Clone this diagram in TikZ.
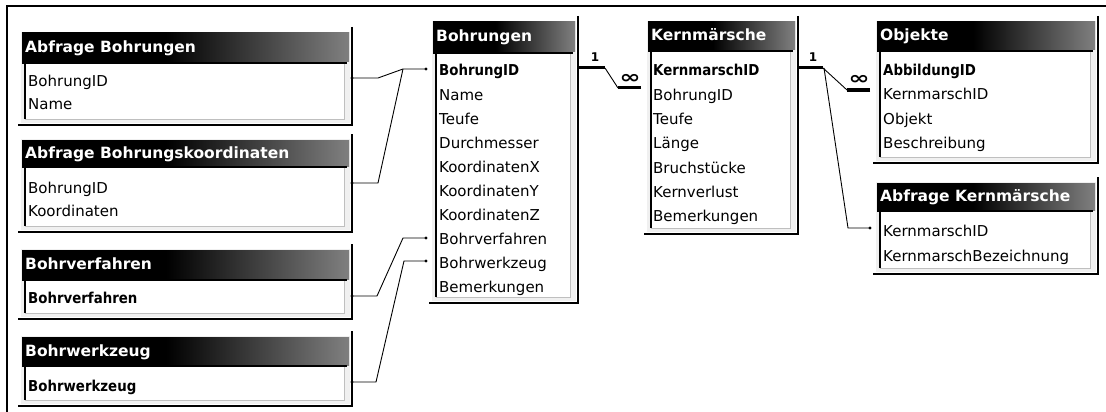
\documentclass[tikz,border=0pt]{standalone}
\usepackage{fontspec}
\setmainfont{DejaVu Sans}
\usepackage{graphicx}
\usetikzlibrary{calc}
\pgfdeclarehorizontalshading{titlegrad}{100bp}{color(0bp)=(black); color(25bp)=(black); color(47bp)=(black); color(75bp)=(black!50); color(100bp)=(black!50)}
\tikzset{
  fld/.style={anchor=west, inner sep=0pt, font=\fontsize{15}{18}\selectfont, text height=11pt, text depth=1pt},
  keyfld/.style={fld, font=\fontsize{15}{18}\selectfont\bfseries},
  ttl/.style={anchor=west, inner sep=0pt, text=white, font=\fontsize{15.5}{18}\selectfont\bfseries, text height=11pt, text depth=1pt},
  conn/.style={black, line width=0.9pt},
  relthick/.style={black, line width=3pt},
  dotend/.style={fill=black, draw=none},
  onelbl/.style={inner sep=0pt, font=\fontsize{12}{12}\selectfont\bfseries},
  manylbl/.style={inner sep=0pt, font=\fontsize{18}{18}\selectfont\bfseries},
}
\newcommand\dbwin[7]{%
  \fill[black!6] (#2-1,#4-1) rectangle (#3+1,#6+4);
  \shade[shading=titlegrad] (#2,#4) rectangle (#3,#5);
  \node[ttl] (#1-title) at (#2+3,{(#4+#5)/2}) {#7};
  \fill[white] (#2+3,#5+2) rectangle (#3-5,#6);
  \draw[black!25, line width=1pt] (#2+3,#6) -- (#3-5,#6) -- (#3-5,#5+2);
  \draw[black, line width=1.3pt] (#2+3,#6) -- (#2+3,#5+1.5);
  \draw[black, line width=2pt] (#2,#5+1) -- (#3-2,#5+1);
  \draw[black, line width=2.4pt] (#3+3,#4-6) -- (#3+3,#6+6) -- (#2-4,#6+6);
}
\begin{document}
\begin{tikzpicture}[x=1pt,y=-1pt]
\useasboundingbox (0,0) rectangle (1106,412);
\fill[white] (0,0) rectangle (1106,412);
\draw[black, line width=2pt] (7,413) -- (7,6) -- (1107,6);

% windows
\dbwin{AB}{22}{349}{33}{62}{119}{Abfrage Bohrungen}
\dbwin{ABK}{22}{349}{140}{166}{226}{Abfrage Bohrungskoordinaten}
\dbwin{BV}{22}{349}{250}{279}{313}{Bohrverfahren}
\dbwin{BW}{22}{349}{337}{365}{400}{Bohrwerkzeug}
\dbwin{B}{433}{575}{22}{52}{297}{Bohrungen}
\dbwin{K}{648}{795}{22}{50}{228}{Kernmärsche}
\dbwin{O}{877}{1095}{22}{50}{157}{Objekte}
\dbwin{AK}{877}{1095}{183}{210}{268}{Abfrage Kernmärsche}

% fields
\node[fld] (AB-f1) at (28,81) {BohrungID};
\node[fld] (AB-f2) at (28,105) {Name};
\node[fld] (ABK-f1) at (28,188) {BohrungID};
\node[fld] (ABK-f2) at (28,211) {Koordinaten};
\node[keyfld] (BV-f1) at (28,298) {\scalebox{0.89}[1]{Bohrverfahren}};
\node[keyfld] (BW-f1) at (28,386) {\scalebox{0.89}[1]{Bohrwerkzeug}};

\node[keyfld] (B-f1) at (439,71) {\scalebox{0.89}[1]{BohrungID}};
\node[fld] (B-f2) at (439,95.1) {Name};
\node[fld] (B-f3) at (439,119.2) {Teufe};
\node[fld] (B-f4) at (439,143.3) {Durchmesser};
\node[fld] (B-f5) at (439,167.4) {KoordinatenX};
\node[fld] (B-f6) at (439,191.5) {KoordinatenY};
\node[fld] (B-f7) at (439,215.6) {KoordinatenZ};
\node[fld] (B-f8) at (439,239.7) {Bohrverfahren};
\node[fld] (B-f9) at (439,263.8) {Bohrwerkzeug};
\node[fld] (B-f10) at (439,287.9) {Bemerkungen};

\node[keyfld] (K-f1) at (653,71) {\scalebox{0.89}[1]{KernmarschID}};
\node[fld] (K-f2) at (653,95.3) {BohrungID};
\node[fld] (K-f3) at (653,119.6) {Teufe};
\node[fld] (K-f4) at (653,143.9) {Länge};
\node[fld] (K-f5) at (653,168.2) {Bruchstücke};
\node[fld] (K-f6) at (653,192.5) {Kernverlust};
\node[fld] (K-f7) at (653,216.8) {Bemerkungen};

\node[keyfld] (O-f1) at (883,70) {\scalebox{0.89}[1]{AbbildungID}};
\node[fld] (O-f2) at (883,94.5) {KernmarschID};
\node[fld] (O-f3) at (883,119) {Objekt};
\node[fld] (O-f4) at (883,143.5) {Beschreibung};

\node[fld] (AK-f1) at (883,231) {KernmarschID};
\node[fld] (AK-f2) at (883,256) {KernmarschBezeichnung};

% connector end points
\coordinate (AB-p) at (352,78);
\coordinate (ABK-p) at (352,183);
\coordinate (BV-p) at (352,296);
\coordinate (BW-p) at (352,382);
\coordinate (B-in1) at (426,69);
\coordinate (B-in8) at (426,238);
\coordinate (B-in9) at (426,261);
\coordinate (J1) at (403,69);
\coordinate (B-out) at (578,68);
\coordinate (K-in) at (641,88);
\coordinate (K-out) at (798,68);
\coordinate (O-in) at (870,90);
\coordinate (AK-in) at (870,228);

% lookup connectors
\draw[conn] (AB-p) -- ++(26,0) -- (J1) -- (B-in1);
\draw[conn] (ABK-p) -- ++(26,0) -- (J1);
\draw[conn] (BV-p) -- ++(25,0) -- ($(B-in8)+(-23,0)$) -- (B-in8);
\draw[conn] (BW-p) -- ++(24,0) -- ($(B-in9)+(-22,0)$) -- (B-in9);
\foreach \p in {AB-p,ABK-p,BV-p,BW-p,B-in1,B-in8,B-in9,AK-in}
  \fill[dotend] (\p) circle (1.7pt);

% 1:n Bohrungen - Kernmaersche
\draw[relthick] (B-out) -- ++(27,0) coordinate (r1a);
\draw[relthick] (K-in) -- ++(-23,0) coordinate (r1b);
\draw[conn] (r1a) -- (r1b);
\node[onelbl] (r1one) at ($(r1a)+(-10,-11)$) {1};
\node[manylbl] (r1many) at ($(r1b)+(12,-9)$) {\scalebox{1.4}[1]{∞}};

% 1:n Kernmaersche - Objekte
\draw[relthick] (K-out) -- ++(25,0) coordinate (r2a);
\draw[relthick] (O-in) -- ++(-23,0) coordinate (r2b);
\draw[conn] (r2a) -- (r2b);
\node[onelbl] (r2one) at ($(r2a)+(-10,-11)$) {1};
\node[manylbl] (r2many) at ($(r2b)+(12,-10)$) {\scalebox{1.4}[1]{∞}};

% Kernmaersche - Abfrage Kernmaersche
\draw[conn] ($(r2a)+(1,0)$) -- ($(AK-in)+(-22,0)$) -- (AK-in);
\end{tikzpicture}
\end{document}
